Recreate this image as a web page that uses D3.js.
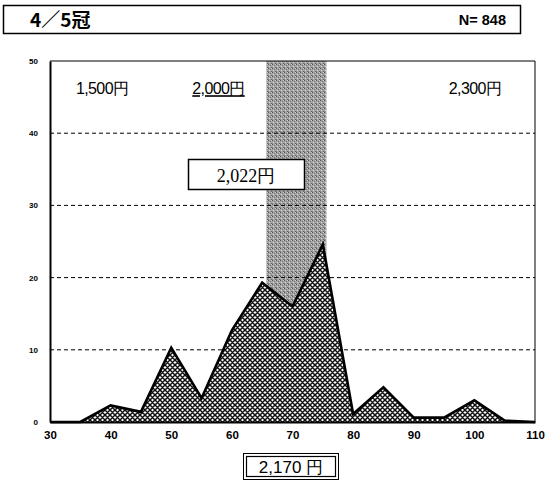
<!DOCTYPE html>
<html><head><meta charset="utf-8">
<script src="https://cdn.jsdelivr.net/npm/d3@7/dist/d3.min.js"></script>
<style>body{margin:0;background:#fff}svg{display:block}</style>
</head><body><svg id="c" width="549" height="489"></svg>
<script>
const xValues = [30,35,40,45,50,55,60,65,70,75,80,85,90,95,100,105,110];
const shares  = [0,0,2.3,1.4,10.3,3.3,12.7,19.3,16.0,24.6,1.1,4.8,0.6,0.6,3.0,0.2,0];
const xTicks = [30,40,50,60,70,80,90,100,110];
const yTicks = [0,10,20,30,40,50];
const band = [65.7, 75.6];
const priceLabels = [{t:"1,500円", x:38.6, u:false},{t:"2,000円", x:57.8, u:true},{t:"2,300円", x:100.1, u:false}];
const title = "4／5冠", nLabel = "N= 848";
const avgLabel = "2,022円", bottomLabel = "2,170 円";

const svg = d3.select("#c");
const m = {l:50, r:535, t:61, b:422};
const x = d3.scaleLinear().domain([30,110]).range([m.l, m.r]);
const y = d3.scaleLinear().domain([0,50]).range([m.b, m.t]);

const defs = svg.append("defs");
const pat = defs.append("pattern").attr("id","hatch").attr("patternUnits","userSpaceOnUse")
  .attr("width",5).attr("height",5);
pat.append("rect").attr("width",5).attr("height",5).attr("fill","#fff");
pat.append("path").attr("d","M0,0L5,5M5,0L0,5M-1,4L1,6M4,-1L6,1M-1,1L1,-1M4,6L6,4").attr("stroke","#111").attr("stroke-width",1.5);

const bp = defs.append("pattern").attr("id","grayband").attr("patternUnits","userSpaceOnUse")
  .attr("width",4).attr("height",4);
bp.append("rect").attr("width",4).attr("height",4).attr("fill","#a4a4a4");
[[0,0,"#555"],[2,1,"#777"],[1,2,"#d8d8d8"],[3,3,"#666"],[3,0,"#c8c8c8"],[0,3,"#888"]].forEach(p=>{
  bp.append("rect").attr("x",p[0]).attr("y",p[1]).attr("width",1).attr("height",1).attr("fill",p[2]);
});

// title box
svg.append("rect").attr("x",3.5).attr("y",5.5).attr("width",517).attr("height",28)
  .attr("fill","#fff").attr("stroke","#000").attr("stroke-width",1.5);
svg.append("text").attr("x",30).attr("y",27).attr("font-family","Noto Sans CJK JP").attr("font-weight","bold")
  .attr("font-size",19).text(title);
svg.append("text").attr("x",506).attr("y",25).attr("text-anchor","end").attr("font-family","Liberation Sans, Arial")
  .attr("font-weight","bold").attr("font-size",14.5).text(nLabel);

// gray band
svg.append("rect").attr("x",x(band[0])).attr("y",m.t).attr("width",x(band[1])-x(band[0])).attr("height",m.b-m.t)
  .attr("fill","url(#grayband)");

// grid
const g = svg.append("g");
g.selectAll("line.grid").data(yTicks.filter(d=>d>0&&d<50)).join("line")
  .attr("x1",m.l).attr("x2",m.r).attr("y1",d=>y(d)).attr("y2",d=>y(d))
  .attr("stroke","#000").attr("stroke-width",1).attr("stroke-dasharray","4,3");

// area
const pts = xValues.map((v,i)=>[v,shares[i]]);
const area = d3.area().x(d=>x(d[0])).y0(y(0)).y1(d=>y(d[1]));
const line = d3.line().x(d=>x(d[0])).y(d=>y(d[1]));
svg.append("path").datum(pts).attr("d",area).attr("fill","url(#hatch)");
svg.append("path").datum(pts).attr("d",line).attr("fill","none").attr("stroke","#000").attr("stroke-width",2.6).attr("stroke-linejoin","miter");

// frame
svg.append("line").attr("x1",m.l).attr("x2",m.r).attr("y1",m.t).attr("y2",m.t).attr("stroke","#000").attr("stroke-width",1);
svg.append("line").attr("x1",m.r).attr("x2",m.r).attr("y1",m.t).attr("y2",m.b).attr("stroke","#000").attr("stroke-width",1);

// axes
const ax = svg.append("g").attr("transform",`translate(0,${m.b})`)
  .call(d3.axisBottom(x).tickValues(xTicks).tickSize(0).tickPadding(9));
const ay = svg.append("g").attr("transform",`translate(${m.l},0)`)
  .call(d3.axisLeft(y).tickValues(yTicks).tickSize(0).tickPadding(12));
[ax,ay].forEach(a=>{
  a.select(".domain").attr("stroke","#000").attr("stroke-width",2);
  a.selectAll("text").attr("font-family","Liberation Sans, Arial").attr("font-weight","bold").attr("fill","#000");
});
ax.selectAll("text").attr("font-size",11.5);
ay.selectAll("text").attr("font-size",8);

// price labels
priceLabels.forEach(p=>{
  const t = svg.append("text").attr("x",x(p.x)).attr("y",y(45.4)).attr("text-anchor","middle")
    .attr("font-family","Liberation Sans, Arial").attr("font-size",16).attr("letter-spacing",-0.6).text(p.t);
  if(p.u){ t.attr("text-decoration","underline"); }
});

// average box
svg.append("rect").attr("x",188.5).attr("y",159.5).attr("width",116).attr("height",30)
  .attr("fill","#fff").attr("stroke","#000").attr("stroke-width",1.5);
svg.append("text").attr("x",246).attr("y",182).attr("text-anchor","middle")
  .attr("font-family","Liberation Serif, serif").attr("font-size",18).text(avgLabel);

// bottom box double border
svg.append("rect").attr("x",243.5).attr("y",453.5).attr("width",95).attr("height",26)
  .attr("fill","#fff").attr("stroke","#000").attr("stroke-width",1);
svg.append("rect").attr("x",246.5).attr("y",456.5).attr("width",89).attr("height",20)
  .attr("fill","none").attr("stroke","#000").attr("stroke-width",1.2);
svg.append("text").attr("x",291).attr("y",473).attr("text-anchor","middle")
  .attr("font-family","Liberation Sans, Arial").attr("font-size",17).text(bottomLabel);
</script></body></html>
